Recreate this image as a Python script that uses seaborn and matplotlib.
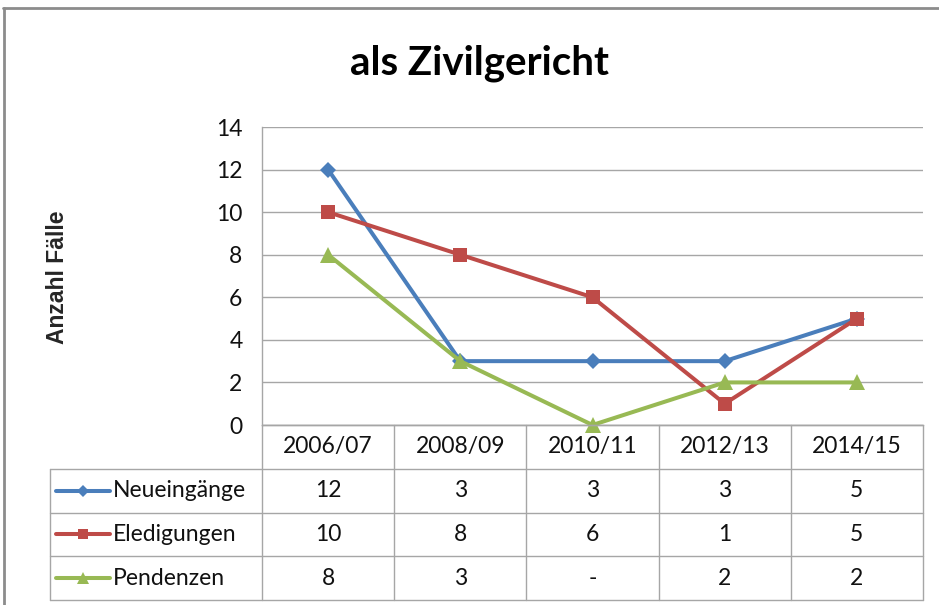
import pandas as pd
import numpy as np
import seaborn as sns
import matplotlib.pyplot as plt
from matplotlib.lines import Line2D

categories = ['2006/07', '2008/09', '2010/11', '2012/13', '2014/15']
series_names = ['Neueingänge', 'Eledigungen', 'Pendenzen']
neueingaenge = [12, 3, 3, 3, 5]
erledigungen = [10, 8, 6, 1, 5]
pendenzen = [8, 3, 0, 2, 2]
y_ticks = [0, 2, 4, 6, 8, 10, 12, 14]

colors = {'Neueingänge': '#4A7EBB', 'Eledigungen': '#BE4B48', 'Pendenzen': '#98B954'}
markers = {'Neueingänge': 'D', 'Eledigungen': 's', 'Pendenzen': '^'}
msizes = {'Neueingänge': 8, 'Eledigungen': 10, 'Pendenzen': 11}

rows = []
for name, vals in zip(series_names, [neueingaenge, erledigungen, pendenzen]):
    for i, v in enumerate(vals):
        rows.append({'pos': i, 'Wert': v, 'Serie': name})
df = pd.DataFrame(rows)

sns.set_theme(style='white')
plt.rcParams['font.family'] = ['Lato', 'DejaVu Sans']

W, H = 939, 605
fig = plt.figure(figsize=(W / 100, H / 100), dpi=100)

# plot area in pixel coordinates
x_left, x_right, y_top, y_bot = 262, 923, 127, 425
ax = fig.add_axes([x_left / W, 1 - y_bot / H, (x_right - x_left) / W, (y_bot - y_top) / H])

sns.lineplot(data=df, x='pos', y='Wert', hue='Serie', style='Serie', palette=colors,
             markers=markers, dashes=False, linewidth=2.9, legend=False, ax=ax)
for line, name in zip(ax.get_lines(), series_names):
    line.set_markersize(msizes[name])
    line.set_markeredgewidth(0)
    line.set_clip_on(False)

ax.set_xlim(-0.5, len(categories) - 0.5)
ax.set_ylim(0, 14)
ax.set_yticks(y_ticks)
ax.set_xticks([])
ax.set_xlabel('')
ax.set_ylabel('')
ax.yaxis.grid(True, color='#A6A6A6', linewidth=1)
ax.tick_params(axis='y', length=0, pad=14, labelsize=16.5, labelcolor='#111111')
for s in ['top', 'right']:
    ax.spines[s].set_visible(False)
for s in ['left', 'bottom']:
    ax.spines[s].set_color('#A6A6A6')
    ax.spines[s].set_linewidth(1)

# title and y label
fig.text(479 / W, 1 - 63 / H, 'als Zivilgericht', ha='center', va='center',
         fontsize=29, fontweight='bold', color='black')
fig.text(57 / W, 1 - 277 / H, 'Anzahl Fälle', ha='center', va='center', rotation=90,
         fontsize=16.5, fontweight='bold', family=['Liberation Sans', 'DejaVu Sans'])

# data table under the plot
t_left, t_bot = 50, 600
tax = fig.add_axes([t_left / W, 1 - t_bot / H, (x_right - t_left) / W, (t_bot - y_bot) / H])
px_per_unit = (x_right - x_left) / len(categories)
xl = -0.5 - (x_left - t_left) / px_per_unit
xr = len(categories) - 0.5
tax.set_xlim(xl, xr)
tax.set_ylim(4, 0)
tax.axis('off')

gc = '#A6A6A6'
# horizontal lines
tax.plot([-0.5, xr], [0, 0], color=gc, lw=1, clip_on=False)
for r in [1, 2, 3, 4]:
    tax.plot([xl, xr], [r, r], color=gc, lw=1, clip_on=False)
# vertical lines
for i in range(len(categories) + 1):
    tax.plot([i - 0.5, i - 0.5], [0, 4], color=gc, lw=1, clip_on=False)
tax.plot([xl, xl], [1, 4], color=gc, lw=1, clip_on=False)

for i, c in enumerate(categories):
    tax.text(i, 0.5, c, ha='center', va='center', fontsize=16.5, color='#111111')

def px(x):
    return xl + (x - t_left) / px_per_unit

for r, (name, vals) in enumerate(zip(series_names, [neueingaenge, erledigungen, pendenzen]), start=1):
    y = r + 0.5
    tax.plot([px(56), px(110)], [y, y], color=colors[name], lw=2.9, solid_capstyle='round')
    tax.plot([px(83)], [y], marker=markers[name], color=colors[name],
             markersize=msizes[name] * 0.75, markeredgewidth=0)
    tax.text(px(113), y, name, ha='left', va='center', fontsize=16.5, color='#111111')
    for i, v in enumerate(vals):
        label = '-' if v == 0 else str(v)
        tax.text(i, y, label, ha='center', va='center', fontsize=16.5, color='#111111')

# outer chart frame
fig.add_artist(Line2D([3 / W, 1], [1 - 8 / H, 1 - 8 / H], color='#8C8C8C', lw=2))
fig.add_artist(Line2D([4 / W, 4 / W], [0, 1 - 8 / H], color='#8C8C8C', lw=2))

fig.savefig('out.png', dpi=100)
